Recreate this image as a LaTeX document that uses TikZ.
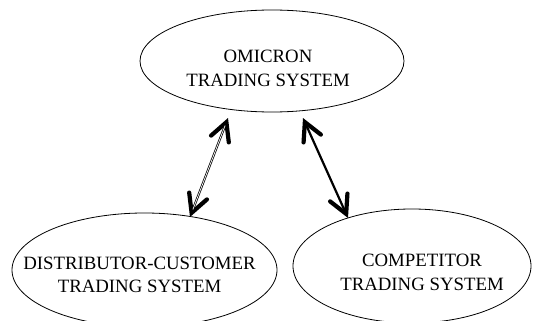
\documentclass[tikz,border=0pt]{standalone}
\usepackage{fontspec}
\setmainfont{Liberation Serif}
\usetikzlibrary{arrows.meta}
\tikzset{
  barb/.tip={Straight Barb[length=18pt,width=19pt,line width=4.2pt,line cap=round]},
  oval/.style={line width=0.8pt},
  label/.style={inner sep=0pt,align=center,font=\fontsize{18.8}{23.5}\selectfont},
  link/.style={line width=2.2pt,barb-barb}
}
\begin{document}
\begin{tikzpicture}[x=1pt,y=-1pt]
\useasboundingbox (0,0) rectangle (535,321);
% the three trading systems
\coordinate (oc) at (272,61);
\coordinate (dc) at (144.5,270);
\coordinate (cc) at (412,266);
\draw[oval] (oc) ellipse [x radius=132, y radius=51];
\draw[oval] (dc) ellipse [x radius=132.5, y radius=57];
\draw[oval] (cc) ellipse [x radius=119, y radius=57];
\node[label] (omicron) at (268,68.5) {OMICRON\\TRADING SYSTEM};
\node[label] (dist) at (139.5,275) {DISTRIBUTOR-CUSTOMER\\TRADING SYSTEM};
\node[label] (comp) at (422,272.5) {COMPETITOR\\TRADING SYSTEM};
% two-way links
\coordinate (a1) at (228,118);
\coordinate (a2) at (190,217);
\coordinate (b1) at (303,118);
\coordinate (b2) at (348,218);
\draw[link] (a1) -- (a2);
\draw[line width=0.7pt,white,shorten <=8pt,shorten >=8pt] (a1) -- (a2);
\draw[link] (b1) -- (b2);
\end{tikzpicture}
\end{document}
